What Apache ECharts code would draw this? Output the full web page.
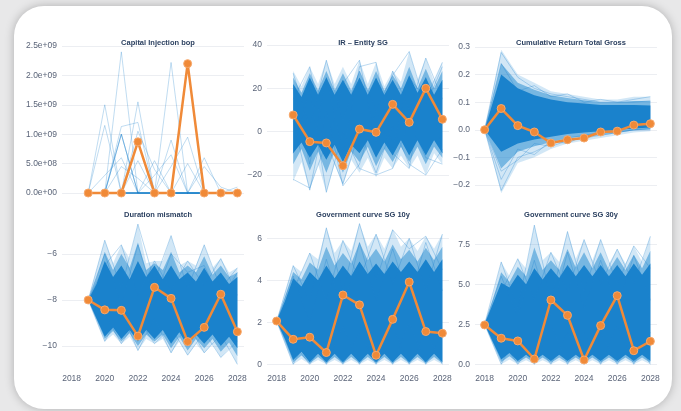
<!DOCTYPE html>
<html><head><meta charset="utf-8">
<script src="https://cdn.jsdelivr.net/npm/echarts@6/dist/echarts.min.js"></script>
<style>
html,body{margin:0;padding:0;width:681px;height:411px;overflow:hidden;background:#e8e8e9;}
#card{position:absolute;left:14px;top:6px;width:658px;height:403px;border-radius:30px;background:#fff;box-shadow:0 0 10px rgba(0,0,0,0.25);}
#chart{position:absolute;left:0;top:0;width:681px;height:411px;}
</style></head><body><div id="card"></div><div id="chart"></div>
<script>
// ---------- x values ----------
const years19 = [2019,2020,2021,2022,2023,2024,2025,2026,2027,2028];
const years18 = [2018,2019,2020,2021,2022,2023,2024,2025,2026,2027,2028];
const half19 = [2019,2019.5,2020,2020.5,2021,2021.5,2022,2022.5,2023,2023.5,2024,2024.5,2025,2025.5,2026,2026.5,2027,2027.5,2028];
const half18 = [2018,2018.5,2019,2019.5,2020,2020.5,2021,2021.5,2022,2022.5,2023,2023.5,2024,2024.5,2025,2025.5,2026,2026.5,2027,2027.5,2028];
const xTicks = [2018,2020,2022,2024,2026,2028];

// ---------- titles ----------
const titles = ['Capital Injection bop','IR \u2013 Entity SG','Cumulative Return Total Gross','Duration mismatch','Government curve SG 10y','Government curve SG 30y'];

// ---------- y ticks ----------
const yTicks1 = [0,5e8,1e9,1.5e9,2e9,2.5e9];
const yTicks2 = [-20,0,20,40];
const yTicks3 = [-0.2,-0.1,0,0.1,0.2,0.3];
const yTicks4 = [-10,-8,-6];
const yTicks5 = [0,2,4,6];
const yTicks6 = [0,2.5,5,7.5];

// ---------- Panel 1: Capital Injection bop (2019-2028) ----------
const cap_orange = [0,0,0,8.7e8,0,0,2.2e9,0,0,0];
const cap_paths = [
  [0,1.5e9,0,0,0,0,0,0,0,0],
  [0,1.15e9,0,0,0,0,0,0,0,0],
  [0,0,2.4e9,0,0,0,0,0,0,0],
  [0,0,1.13e9,1.2e9,0,0,0,0,0,0],
  [0,0,1.0e9,0,0,0,0,0,0,0],
  [0,0,1.0e9,0,0,0,0,0,0,0],
  [0,0,1.0e9,0,0,0,0,0,0,0],
  [0,3e8,6e8,0,0,0,0,0,0,0],
  [0,0,4.5e8,2.5e8,0,0,0,0,0,0],
  [0,0,0,1.55e9,0,0,0,0,0,0],
  [0,0,0,1.05e9,4e8,0,0,0,0,0],
  [0,0,0,5.5e8,0,0,0,0,0,0],
  [0,0,0,0,5.5e8,0,0,0,0,0],
  [0,0,0,0,0,2.22e9,0,0,0,0],
  [0,0,0,0,0,9e8,0,0,0,0],
  [0,0,0,0,3e8,6.5e8,0,0,0,0],
  [0,0,0,0,0,4.5e8,9.5e8,0,0,0],
  [0,0,0,0,0,0,5e8,0,0,0],
  [0,0,0,0,0,0,0,6e8,0,0],
  [0,0,0,0,0,0,0,4.5e8,1e8,0],
  [0,0,0,0,0,0,0,0,0,1e8]
];

// ---------- Panel 2: IR - Entity SG (2019-2028) ----------
const ir_orange = [7.7,-4.6,-5.2,-15.7,1.2,-0.3,12.6,4.3,20,5.7];
const ir_outerHigh = [28,21,30,22,33,22,30,22,33,22,32,21,28,23,37,24,34,23,32];
const ir_midHigh   = [25,18,27,19,28,19,27,19,28,19,28,19,26,20,30,20,29,20,28];
const ir_coreHigh  = [22,16,25,17,25,17,24,17,25,17,25,17,24,17,26,18,25,17,24];
const ir_coreLow   = [-10,-5,-12,-6,-13,-6,-14,-6,-10,-4,-12,-5,-11,-4,-11,-4,-11,-4,-10];
const ir_midLow    = [-15,-8,-18,-9,-19,-9,-19,-9,-14,-7,-16,-8,-14,-7,-14,-7,-15,-7,-12];
const ir_outerLow  = [-23,-14,-27,-15,-28,-15,-25,-13,-19,-12,-21,-12,-17,-11,-17,-11,-20,-10,-15];
const ir_paths = [
  [27,2,33,5,28,10,26,37,12,30],
  [-22,-26,-5,-24,0,-19,3,-15,-20,-8],
  [15,30,-8,22,33,-5,28,10,34,15],
  [-10,20,-28,0,-17,-20,-17,5,-12,-15],
  [20,-15,25,-10,30,32,-8,25,15,32],
  [5,-27,10,-25,-15,10,-10,-17,25,-10]
];

// ---------- Panel 3: Cumulative Return Total Gross (2018-2028) ----------
const cr_orange = [0,0.077,0.015,-0.008,-0.048,-0.036,-0.03,-0.008,-0.005,0.017,0.022];
const cr_outerHigh = [0,0.29,0.2,0.17,0.14,0.13,0.12,0.11,0.11,0.12,0.12];
const cr_midHigh   = [0,0.24,0.17,0.145,0.125,0.115,0.107,0.1,0.1,0.104,0.104];
const cr_coreHigh  = [0,0.2,0.15,0.125,0.11,0.1,0.095,0.09,0.09,0.09,0.088];
const cr_coreLow   = [0,-0.08,-0.05,-0.035,-0.025,-0.015,-0.01,-0.005,0.0,0.005,0.008];
const cr_midLow    = [0,-0.14,-0.08,-0.06,-0.045,-0.03,-0.025,-0.017,-0.01,-0.003,0.002];
const cr_outerLow  = [0,-0.23,-0.12,-0.1,-0.07,-0.05,-0.04,-0.03,-0.02,-0.01,-0.005];
const cr_paths = [
  [0,0.28,0.19,0.15,0.13,0.12,0.11,0.1,0.1,0.11,0.12],
  [0,-0.22,-0.1,-0.08,-0.05,-0.03,-0.02,-0.01,0,0.01,0.01],
  [0,0.24,0.14,0.16,0.12,0.13,0.1,0.11,0.1,0.1,0.105],
  [0,-0.15,-0.11,-0.05,-0.06,-0.04,-0.03,-0.02,-0.01,0.0,0.005],
  [0,-0.18,-0.07,-0.09,-0.04,-0.05,-0.02,-0.02,-0.01,0,0]
];

// ---------- Panel 4: Duration mismatch (2019-2028) ----------
const dm_orange = [-8,-8.43,-8.45,-9.57,-7.45,-7.93,-9.81,-9.19,-7.75,-9.38];
const dm_outerHigh = [-8,-6.7,-5.4,-6.4,-5.6,-6.2,-4.7,-6.4,-6.3,-6.3,-5.2,-6.5,-6.3,-6.5,-5.6,-6.6,-6.2,-6.8,-6.6];
const dm_midHigh   = [-8,-7.0,-5.9,-6.7,-6.0,-6.6,-5.5,-6.7,-6.4,-6.7,-5.9,-6.8,-6.5,-6.8,-6.1,-6.9,-6.5,-7.0,-6.8];
const dm_coreHigh  = [-8,-7.3,-6.3,-7.0,-6.5,-7.1,-6.3,-7.0,-6.5,-7.1,-6.5,-7.1,-6.8,-7.2,-6.6,-7.2,-6.8,-7.3,-7.0];
const dm_coreLow   = [-8,-8.8,-9.6,-9.2,-9.7,-9.3,-9.8,-9.3,-9.7,-9.3,-9.9,-9.4,-10.0,-9.5,-9.9,-9.5,-10.0,-9.6,-10.1];
const dm_midLow    = [-8,-8.85,-9.7,-9.35,-9.8,-9.45,-10.0,-9.5,-9.8,-9.5,-10.1,-9.6,-10.2,-9.7,-10.1,-9.7,-10.25,-9.85,-10.45];
const dm_outerLow  = [-8,-8.9,-9.8,-9.5,-9.9,-9.6,-10.2,-9.7,-9.9,-9.7,-10.3,-9.8,-10.4,-9.9,-10.3,-9.9,-10.5,-10.1,-10.8];
const dm_paths = [
  [-8,-5.4,-7.5,-4.7,-7.2,-5.2,-7.5,-5.6,-7.5,-6.6],
  [-8,-6.5,-5.6,-7.8,-6.3,-7.6,-6.3,-7.4,-6.2,-7.8],
  [-8,-9.8,-8.5,-10.2,-8.8,-10.3,-9,-10.3,-9.5,-10.8],
  [-8,-8.6,-9.9,-8.8,-9.9,-9.2,-10.4,-9.4,-10.5,-9.8],
  [-8,-6.0,-8.2,-5.6,-8.0,-6.0,-6.8,-6.5,-8.0,-6.8]
];

// ---------- Panel 5: Government curve SG 10y (2018-2028) ----------
const g10_orange = [2.06,1.19,1.29,0.56,3.3,2.83,0.43,2.14,3.92,1.56,1.48];
const g10_outerHigh = [2.05,3.4,4.7,4.4,5.3,5.0,6.5,5.3,5.9,5.4,6.7,5.6,6.2,5.5,6.45,5.6,6.0,5.4,6.1,5.5,6.2];
const g10_midHigh   = [2.05,3.2,4.4,4.05,4.85,4.5,5.6,4.7,5.3,4.8,5.8,4.95,5.5,4.9,5.7,5.0,5.45,4.9,5.55,4.95,5.6];
const g10_coreHigh  = [2.05,3.0,4.1,3.7,4.4,4.0,4.7,4.1,4.7,4.2,4.9,4.3,4.8,4.3,4.9,4.4,4.9,4.4,5.0,4.4,5.0];
const g10_coreLow   = [2.05,1.2,0.2,0.6,0.1,0.5,0.1,0.5,0.1,0.5,0.1,0.5,0.1,0.5,0.1,0.5,0.1,0.5,0.1,0.5,0.1];
const g10_midLow    = [2.05,1.1,0.1,0.42,0.05,0.35,0.05,0.35,0.05,0.35,0.05,0.35,0.05,0.35,0.05,0.35,0.05,0.35,0.05,0.35,0.05];
const g10_outerLow  = [2.05,1.0,0,0.25,0,0.2,0,0.2,0,0.2,0,0.2,0,0.2,0,0.2,0,0.2,0,0.2,0];
const g10_paths = [
  [2.05,4.7,3.0,6.5,3.5,6.7,4.0,6.4,5.5,6.1,4.5],
  [2.05,3.5,5.3,3.0,5.9,4.0,6.2,3.8,6.0,3.5,6.2],
  [2.05,0,1.5,0,1.8,0,1.5,0,2.0,0,1.5],
  [2.05,1.0,0,1.2,0,1.5,0,1.8,0,1.5,0],
  [2.05,4.2,2.0,5.0,2.5,5.8,3.0,5.5,3.0,5.8,3.5]
];

// ---------- Panel 6: Government curve SG 30y (2018-2028) ----------
const g30_orange = [2.46,1.63,1.46,0.33,4.02,3.06,0.27,2.42,4.29,0.85,1.44];
const g30_outerHigh = [2.5,4.3,6.4,5.5,6.6,6.0,8.7,6.5,7.0,6.4,8.3,6.6,7.8,6.5,7.8,6.3,7.2,6.3,7.4,6.4,8.0];
const g30_midHigh   = [2.5,4.05,5.75,5.15,6.1,5.5,7.3,5.9,6.5,5.9,7.2,6.05,7.0,6.0,7.0,5.9,6.7,5.9,6.85,6.0,7.1];
const g30_coreHigh  = [2.5,3.8,5.1,4.8,5.6,5.0,6.0,5.3,6.0,5.4,6.2,5.5,6.2,5.5,6.2,5.5,6.2,5.5,6.3,5.6,6.3];
const g30_coreLow   = [2.5,1.4,0.3,0.7,0.2,0.6,0.2,0.6,0.2,0.6,0.2,0.6,0.2,0.6,0.2,0.6,0.2,0.6,0.2,0.6,0.2];
const g30_midLow    = [2.5,1.32,0.15,0.5,0.1,0.42,0.1,0.42,0.1,0.42,0.1,0.42,0.1,0.42,0.1,0.42,0.1,0.42,0.1,0.42,0.1];
const g30_outerLow  = [2.5,1.25,0,0.3,0,0.25,0,0.25,0,0.25,0,0.25,0,0.25,0,0.25,0,0.25,0,0.25,0];
const g30_paths = [
  [2.5,6.4,3.5,8.7,4.0,8.3,4.5,7.8,5.0,7.4,6.0],
  [2.5,4.5,6.6,4.0,7.0,4.5,7.8,5.0,7.2,5.0,8.0],
  [2.5,0,2.0,0,2.5,0,2.0,0,2.5,0,2.0],
  [2.5,1.5,0,1.5,0,2.0,0,2.0,0,1.8,0],
  [2.5,5.5,3.0,6.5,3.0,7.0,3.5,6.5,3.5,6.8,4.0]
];

// ---------- build ----------
const BLUE = '#1a82cc';
const MID = 'rgba(30,135,208,0.5)';
const OUTER = 'rgba(50,145,212,0.22)';
const PATH = 'rgba(30,130,205,0.3)';
const ORANGE = '#f08a38';
const LABEL = '#5a6478';
const FONT = 'Liberation Sans, Arial, sans-serif';

function pairs(xs, ys){ return xs.map((x,i)=>[x, ys[i]]); }
// band polygon drawn through the axes of grid gi: upper edge left->right, lower edge right->left
function band(gi, xs, lo, hi, color){
  const poly = pairs(xs, hi).concat(pairs(xs, lo).reverse());
  return {type:'custom', coordinateSystem:'cartesian2d', xAxisIndex:gi, yAxisIndex:gi, silent:true, z:1,
    data: poly,
    renderItem: function(params, api){
      if (params.dataIndex !== 0) return null;
      const pts = poly.map(p => api.coord(p));
      return {type:'polygon', shape:{points:pts}, style:{fill:color}};
    }};
}
function paths(gi, xs, list, color, w){
  return list.map(p=>({type:'line', xAxisIndex:gi, yAxisIndex:gi, data:pairs(xs,p), symbol:'none',
    lineStyle:{color:color, width:w}, silent:true, z:2}));
}
function orange(gi, xs, ys){
  return {type:'line', xAxisIndex:gi, yAxisIndex:gi, data:pairs(xs,ys), symbol:'circle', symbolSize:8,
    lineStyle:{color:ORANGE, width:2.5}, itemStyle:{color:ORANGE, borderColor:'#f6a86c', borderWidth:1}, z:5};
}
function fan(gi, xs, lo, mLo, cLo, cHi, mHi, hi, pxs, plist, oys){
  return [
    band(gi, xs, lo, hi, OUTER),
    band(gi, xs, mLo, mHi, MID),
    band(gi, xs, cLo, cHi, BLUE),
    ...paths(gi, pxs, plist, PATH, 1),
    orange(gi, pxs, oys)
  ];
}

const series = [];
series.push(...paths(0, years19, cap_paths, 'rgba(30,130,205,0.28)', 1));
series.push(orange(0, years19, cap_orange));
series.push(...fan(1, half19, ir_outerLow, ir_midLow, ir_coreLow, ir_coreHigh, ir_midHigh, ir_outerHigh, years19, ir_paths, ir_orange));
series.push(...fan(2, years18, cr_outerLow, cr_midLow, cr_coreLow, cr_coreHigh, cr_midHigh, cr_outerHigh, years18, cr_paths, cr_orange));
series.push(...fan(3, half19, dm_outerLow, dm_midLow, dm_coreLow, dm_coreHigh, dm_midHigh, dm_outerHigh, years19, dm_paths, dm_orange));
series.push(...fan(4, half18, g10_outerLow, g10_midLow, g10_coreLow, g10_coreHigh, g10_midHigh, g10_outerHigh, years18, g10_paths, g10_orange));
series.push(...fan(5, half18, g30_outerLow, g30_midLow, g30_coreLow, g30_coreHigh, g30_midHigh, g30_outerHigh, years18, g30_paths, g30_orange));

const lefts = [62,267,475,62,267,475];
const tops = [42,42,42,222,222,222];
const heights = [154,154,154,146,146,146];
const grids = lefts.map((l,i)=>({left:l, top:tops[i], width:182, height:heights[i]}));

const fmtExp = v => v.toExponential(1).replace(/e([+-])(\d)$/, 'e$10$2');
const minus = s => String(s).replace('-', '\u2212');
const yCfg = [
  {min:-0.051e9, max:2.568e9, ticks:yTicks1, fmt:fmtExp},
  {min:-29.69, max:41.38, ticks:yTicks2, fmt:v=>minus(v)},
  {min:-0.24, max:0.318, ticks:yTicks3, fmt:v=>minus(v.toFixed(1))},
  {min:-10.957, max:-4.61, ticks:yTicks4, fmt:v=>minus(v)},
  {min:-0.176, max:6.776, ticks:yTicks5, fmt:v=>minus(v)},
  {min:-0.231, max:8.894, ticks:yTicks6, fmt:v=>minus(v.toFixed(1))}
];

const xAxis = grids.map((g,i)=>({
  type:'value', gridIndex:i, min:2017.42, max:2028.4,
  axisLine:{show:false}, splitLine:{show:false},
  axisTick:{show:false, customValues:xTicks},
  axisLabel:{show:i>=3, customValues:xTicks, formatter:v=>String(v), color:LABEL, fontSize:8.5, fontFamily:FONT, margin:6}
}));
const yAxis = yCfg.map((c,i)=>({
  type:'value', gridIndex:i, min:c.min, max:c.max,
  axisLine:{show:false},
  axisTick:{show:false, customValues:c.ticks},
  splitLine:{show:true, lineStyle:{color:'#eceef2', width:1}},
  axisLabel:{customValues:c.ticks, formatter:c.fmt, color:LABEL, fontSize:8.5, fontFamily:FONT, margin:5}
}));
const titleCenters = [153,358,566,153,358,566];
const titleTops = [34,34,34,206,206,206];
const title = titles.map((t,i)=>({text:t, left:titleCenters[i], top:titleTops[i], textAlign:'center',
  textStyle:{fontSize:7.5, fontWeight:'bold', color:'#2a3f5f', fontFamily:FONT}}));

const chart = echarts.init(document.getElementById('chart'));
chart.setOption({animation:false, backgroundColor:'transparent', title, grid:grids, xAxis, yAxis, series});
</script></body></html>
